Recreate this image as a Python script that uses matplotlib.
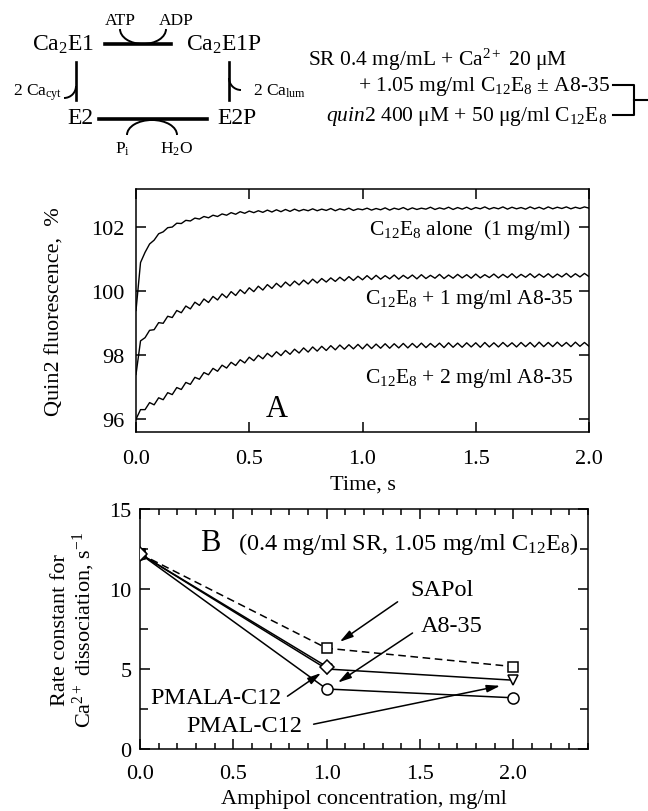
import matplotlib.pyplot as plt
import numpy as np
from matplotlib.patches import Arc
from matplotlib.ticker import MultipleLocator, FormatStrFormatter

plt.rcParams['font.family'] = 'Liberation Serif'
plt.rcParams['mathtext.fontset'] = 'custom'
plt.rcParams['mathtext.rm'] = 'Liberation Serif'
plt.rcParams['mathtext.it'] = 'Liberation Serif:italic'
plt.rcParams['axes.linewidth'] = 1.1

# ---- Panel A: quin2 fluorescence traces (0.02 s steps) ----
time_s = np.linspace(0, 2.0, 101)

c12e8_alone = [
    99.40, 100.90, 101.22, 101.48, 101.60, 101.80, 101.86, 101.99, 102.01, 102.13,
    102.12, 102.22, 102.20, 102.29, 102.26, 102.34, 102.30, 102.38, 102.34, 102.42,
    102.38, 102.46, 102.41, 102.49, 102.44, 102.51, 102.46, 102.52, 102.47, 102.54,
    102.48, 102.55, 102.49, 102.56, 102.50, 102.57, 102.51, 102.56, 102.52, 102.58,
    102.52, 102.57, 102.53, 102.59, 102.52, 102.58, 102.54, 102.60, 102.53, 102.58,
    102.55, 102.60, 102.54, 102.59, 102.55, 102.61, 102.54, 102.60, 102.56, 102.62,
    102.55, 102.61, 102.56, 102.60, 102.57, 102.63, 102.56, 102.61, 102.57, 102.63,
    102.56, 102.62, 102.57, 102.63, 102.56, 102.62, 102.58, 102.64, 102.57, 102.62,
    102.58, 102.64, 102.57, 102.63, 102.58, 102.62, 102.57, 102.64, 102.58, 102.63,
    102.57, 102.64, 102.58, 102.63, 102.59, 102.64, 102.58, 102.63, 102.59, 102.64,
    102.60]

c12e8_a835_1 = [
    97.40, 98.45, 98.55, 98.78, 98.80, 99.02, 99.00, 99.22, 99.18, 99.40,
    99.33, 99.54, 99.45, 99.66, 99.56, 99.76, 99.65, 99.84, 99.73, 99.92,
    99.80, 99.99, 99.87, 100.05, 99.93, 100.11, 99.99, 100.16, 100.04, 100.21,
    100.09, 100.25, 100.13, 100.29, 100.17, 100.32, 100.20, 100.35, 100.23, 100.38,
    100.26, 100.40, 100.29, 100.42, 100.31, 100.44, 100.33, 100.46, 100.34, 100.47,
    100.36, 100.49, 100.37, 100.50, 100.38, 100.49, 100.39, 100.51, 100.38, 100.50,
    100.40, 100.51, 100.39, 100.52, 100.40, 100.50, 100.41, 100.53, 100.40, 100.51,
    100.41, 100.53, 100.42, 100.52, 100.41, 100.54, 100.42, 100.52, 100.43, 100.54,
    100.42, 100.53, 100.43, 100.55, 100.42, 100.53, 100.44, 100.55, 100.43, 100.54,
    100.44, 100.55, 100.43, 100.54, 100.45, 100.56, 100.44, 100.55, 100.45, 100.56,
    100.46]

c12e8_a835_2 = [
    96.00, 96.30, 96.30, 96.52, 96.45, 96.67, 96.61, 96.83, 96.77, 96.99,
    96.93, 97.15, 97.09, 97.31, 97.25, 97.46, 97.39, 97.59, 97.50, 97.69,
    97.60, 97.78, 97.68, 97.86, 97.76, 97.94, 97.83, 98.00, 97.89, 98.06,
    97.95, 98.11, 97.99, 98.15, 98.03, 98.19, 98.07, 98.23, 98.10, 98.26,
    98.13, 98.28, 98.15, 98.30, 98.17, 98.32, 98.19, 98.33, 98.20, 98.34,
    98.20, 98.35, 98.21, 98.35, 98.22, 98.36, 98.22, 98.36, 98.23, 98.37,
    98.23, 98.37, 98.24, 98.38, 98.24, 98.37, 98.25, 98.38, 98.24, 98.39,
    98.25, 98.38, 98.25, 98.39, 98.26, 98.39, 98.25, 98.40, 98.26, 98.39,
    98.26, 98.40, 98.27, 98.39, 98.26, 98.40, 98.27, 98.40, 98.26, 98.41,
    98.27, 98.40, 98.27, 98.41, 98.28, 98.40, 98.27, 98.41, 98.28, 98.40,
    98.28]

# ---- Panel B: rate constants ----
sapol_x = [0.0, 1.0, 2.0]
sapol_k = [12.2, 6.3, 5.15]
a835_x = [0.0, 1.0, 2.0]
a835_k = [12.2, 3.75, 3.2]
pmala_x = [0.0, 1.0]
pmala_k = [12.2, 5.15]
pmal_x = [0.0, 1.0, 2.0]
pmal_k = [12.2, 5.0, 4.3]

fig = plt.figure(figsize=(6.48, 8.12), dpi=100)

# ---------------- Panel A ----------------
axA = fig.add_axes([136/648, 1 - 433/812, 453/648, 243/812])
for trace in [c12e8_alone, c12e8_a835_1, c12e8_a835_2]:
    axA.plot(time_s, trace, color='black', lw=1.0)
axA.set_xlim(0, 2.0)
axA.set_ylim(95.6, 103.2)
axA.set_xticks([0, 0.5, 1.0, 1.5, 2.0])
axA.set_yticks([96, 98, 100, 102])
axA.xaxis.set_major_formatter(FormatStrFormatter('%.1f'))
axA.tick_params(direction='in', top=True, right=True, labelsize=16,
                length=7, width=1.1)
axA.tick_params(axis='x', pad=12)
axA.tick_params(axis='y', pad=8)
axA.set_xlabel('Time, s', fontsize=16, labelpad=5)
axA.set_ylabel('Quin2 fluorescence,  %', fontsize=16)
axA.yaxis.set_label_coords(-0.157, 0.5)

axA.text(1.92, 101.94, 'C$_{12}$E$_8$ alone  (1 mg/ml)', fontsize=15.5,
         ha='right', va='center')
axA.text(1.93, 99.76, 'C$_{12}$E$_8$ + 1 mg/ml A8-35', fontsize=15.5,
         ha='right', va='center')
axA.text(1.93, 97.32, 'C$_{12}$E$_8$ + 2 mg/ml A8-35', fontsize=15.5,
         ha='right', va='center')
axA.text(0.62, 96.33, 'A', fontsize=22, ha='center', va='center')

# ---------------- Panel B ----------------
axB = fig.add_axes([140/648, 1 - 750/812, 448/648, 240/812])
mk = dict(color='black', lw=1.1, mfc='white', mec='black', mew=1.1, zorder=3)
axB.plot(sapol_x, sapol_k, ls=(0, (5, 3)), marker='s', ms=6.5, **mk)
axB.plot(pmal_x, pmal_k, ls='-', marker='v', ms=7, **mk)
axB.plot(a835_x, a835_k, ls='-', marker='o', ms=8, **mk)
axB.plot(pmala_x, pmala_k, ls='-', marker='D', ms=7.5, **mk)
axB.set_xlim(0, 2.4)
axB.set_ylim(0, 15)
axB.xaxis.set_major_locator(MultipleLocator(0.5))
axB.xaxis.set_minor_locator(MultipleLocator(0.1))
axB.xaxis.set_major_formatter(FormatStrFormatter('%.1f'))
axB.yaxis.set_major_locator(MultipleLocator(5))
axB.yaxis.set_minor_locator(MultipleLocator(2.5))
axB.tick_params(which='both', direction='in', top=True, right=True, width=1.1)
axB.tick_params(which='major', labelsize=16, length=7)
axB.tick_params(axis='x', which='minor', length=4)
axB.tick_params(axis='y', which='minor', length=6)
axB.tick_params(axis='x', pad=11)
axB.tick_params(axis='y', pad=6)
axB.set_xlabel('Amphipol concentration, mg/ml', fontsize=16, labelpad=4)
axB.set_ylabel('Rate constant for\nCa$^{2+}$ dissociation, s$^{-1}$',
               fontsize=16, linespacing=1.0)
axB.yaxis.set_label_coords(-0.097, 0.5)

axB.text(0.375, 12.9, 'B', fontsize=22, ha='center', va='center')
axB.text(0.525, 12.85, '(0.4 mg/ml SR, 1.05 mg/ml C$_{12}$E$_8$)', fontsize=17.5,
         ha='left', va='center')

arrow = dict(arrowstyle='-|>,head_length=0.8,head_width=0.22', color='black',
             lw=1.1, mutation_scale=10, shrinkA=0, shrinkB=0)
axB.text(1.62, 10.0, 'SAPol', fontsize=17.5, ha='center', va='center')
axB.annotate('', xy=(1.07, 6.7), xytext=(1.38, 9.2), arrowprops=arrow)
axB.text(1.67, 7.7, 'A8-35', fontsize=17.5, ha='center', va='center')
axB.annotate('', xy=(1.06, 4.15), xytext=(1.46, 7.25), arrowprops=arrow)
axB.text(0.76, 3.2, 'PMAL$\\mathit{A}$-C12', fontsize=17.5, ha='right', va='center')
axB.annotate('', xy=(0.97, 4.75), xytext=(0.79, 3.3), arrowprops=arrow)
axB.text(0.87, 1.45, 'PMAL-C12', fontsize=17.5, ha='right', va='center')
axB.annotate('', xy=(1.93, 3.95), xytext=(0.93, 1.55), arrowprops=arrow)

# ---------------- Reaction scheme (figure pixel coordinates) ----------------
sk = fig.add_axes([0, 0, 1, 1], zorder=-1)
sk.set_xlim(0, 648)
sk.set_ylim(812, 0)
sk.axis('off')

sk.text(63, 45, 'Ca$_2$E1', fontsize=17, ha='center', va='center')
sk.text(224, 45, 'Ca$_2$E1P', fontsize=17, ha='center', va='center')
sk.text(80, 118, 'E2', fontsize=17, ha='center', va='center')
sk.text(237, 118, 'E2P', fontsize=17, ha='center', va='center')
sk.text(120, 21, 'ATP', fontsize=12.5, ha='center', va='center')
sk.text(176, 21, 'ADP', fontsize=12.5, ha='center', va='center')
sk.text(123, 149, 'P$_{\\rm i}$', fontsize=12.5, ha='center', va='center')
sk.text(177, 149, 'H$_2$O', fontsize=12.5, ha='center', va='center')
sk.text(38, 93, '2 Ca$_{\\rm cyt}$', fontsize=12.5, ha='center', va='center')
sk.text(280, 91, '2 Ca$_{\\rm lum}$', fontsize=12.5, ha='center', va='center')

sk.plot([105, 171], [45, 45], color='black', lw=2.6)
sk.plot([99, 207], [120, 120], color='black', lw=2.6)
sk.plot([76, 76], [63, 101], color='black', lw=1.9)
sk.plot([229, 229], [63, 101], color='black', lw=1.9)
sk.add_patch(Arc((143, 30), 46, 30, theta1=0, theta2=180, color='black', lw=1.4))
sk.add_patch(Arc((152, 136), 50, 30, theta1=180, theta2=360, color='black', lw=1.4))
sk.add_patch(Arc((64, 87), 24, 24, theta1=0, theta2=90, color='black', lw=1.4))
sk.add_patch(Arc((241, 79), 24, 24, theta1=90, theta2=180, color='black', lw=1.4))

sk.text(308, 60, 'SR 0.4 mg/mL + Ca$^{2+}$ 20 μM', fontsize=15.5,
        ha='left', va='center')
sk.text(610, 86, '+ 1.05 mg/ml C$_{12}$E$_8$ ± A8-35', fontsize=15.5,
        ha='right', va='center')
sk.text(607, 116, '$\\mathit{quin2}$ 400 μM + 50 μg/ml C$_{12}$E$_8$', fontsize=15.5,
        ha='right', va='center')
sk.plot([613, 634, 634, 613], [86, 86, 116, 116], color='black', lw=1.5)
sk.plot([634, 648], [101, 101], color='black', lw=1.5)

plt.savefig('out.png', dpi=100)
